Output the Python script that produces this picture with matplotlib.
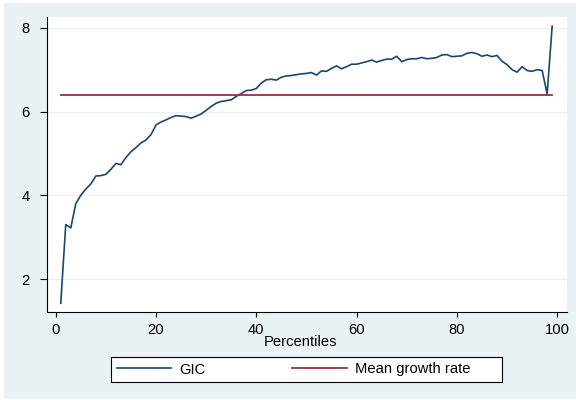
import matplotlib
matplotlib.use("Agg")
import matplotlib.pyplot as plt
from matplotlib.patches import Rectangle

# growth incidence curve
percentiles = list(range(1, 100))
gic = [
    1.42, 3.30, 3.22, 3.80, 4.00, 4.15, 4.27, 4.46, 4.47, 4.50,
    4.62, 4.76, 4.73, 4.90, 5.04, 5.14, 5.25, 5.32, 5.45, 5.68,
    5.75, 5.80, 5.86, 5.90, 5.89, 5.88, 5.84, 5.89, 5.94, 6.03,
    6.12, 6.20, 6.24, 6.26, 6.28, 6.36, 6.43, 6.50, 6.51, 6.55,
    6.68, 6.76, 6.77, 6.75, 6.82, 6.85, 6.86, 6.88, 6.90, 6.91,
    6.93, 6.87, 6.97, 6.96, 7.03, 7.09, 7.02, 7.07, 7.13, 7.13,
    7.16, 7.19, 7.23, 7.18, 7.22, 7.25, 7.25, 7.32, 7.19, 7.24,
    7.26, 7.26, 7.29, 7.26, 7.27, 7.29, 7.35, 7.36, 7.31, 7.32,
    7.33, 7.39, 7.41, 7.38, 7.32, 7.35, 7.31, 7.34, 7.20, 7.12,
    7.00, 6.94, 7.07, 6.98, 6.96, 7.00, 6.98, 6.42, 8.04,
]
mean_growth = 6.39

x_ticks = [0, 20, 40, 60, 80, 100]
y_ticks = [2, 4, 6, 8]

BG = "#eaf2f3"
NAVY = "#1a476f"
MAROON = "#90353b"
FS = 10.6

plt.rcParams["font.family"] = ["Liberation Sans", "DejaVu Sans"]
plt.rcParams["font.size"] = FS

W, H = 576, 400
fig = plt.figure(figsize=(W / 100, H / 100), dpi=100)
fig.patch.set_facecolor("white")
fig.patches.append(Rectangle((4 / W, 1 / H), 1 - 4 / W, 1 - 4 / H,
                             transform=fig.transFigure, facecolor=BG,
                             edgecolor="none", zorder=-10))

ax = fig.add_axes([46.7 / W, 1 - 311.7 / H, 520 / W, 294.4 / H])
ax.set_facecolor("white")

ax.plot(percentiles, gic, color=NAVY, lw=1.2, label="GIC")
ax.plot([percentiles[0], percentiles[-1]], [mean_growth, mean_growth],
        color=MAROON, lw=1.3, label="Mean growth rate")

ax.set_xlim(-1.8, 101.9)
ax.set_ylim(1.22, 8.25)
ax.set_xticks(x_ticks)
ax.set_yticks(y_ticks)
ax.grid(axis="y", color=BG, lw=1.0)
ax.set_axisbelow(True)

for side in ["top", "right"]:
    ax.spines[side].set_visible(False)
for side in ["left", "bottom"]:
    ax.spines[side].set_color("black")
    ax.spines[side].set_linewidth(0.8)

ax.tick_params(axis="x", length=3.6, width=0.8, pad=4.6, labelsize=FS)
ax.tick_params(axis="y", length=4.8, width=0.8, pad=7.5, labelsize=FS)

ax.set_xlabel("Percentiles", fontsize=FS)
ax.xaxis.set_label_coords(0.489, -0.08)

# legend box below the plot, Stata style
fig.patches.append(Rectangle((110.7 / W, 1 - 382.3 / H), 391.6 / W, 25.6 / H,
                             transform=fig.transFigure, facecolor="white",
                             edgecolor="black", lw=0.8, zorder=1))
handles, labels = ax.get_legend_handles_labels()
leg = fig.legend(handles, labels, loc="center left", ncol=2,
                 bbox_to_anchor=(116.7 / W, 1 - 369.5 / H), frameon=False,
                 borderpad=0, borderaxespad=0, handlelength=3.7,
                 handletextpad=0.55, columnspacing=5.9, fontsize=FS)
leg.set_zorder(2)

fig.savefig("out.png", dpi=100, facecolor=fig.get_facecolor())
